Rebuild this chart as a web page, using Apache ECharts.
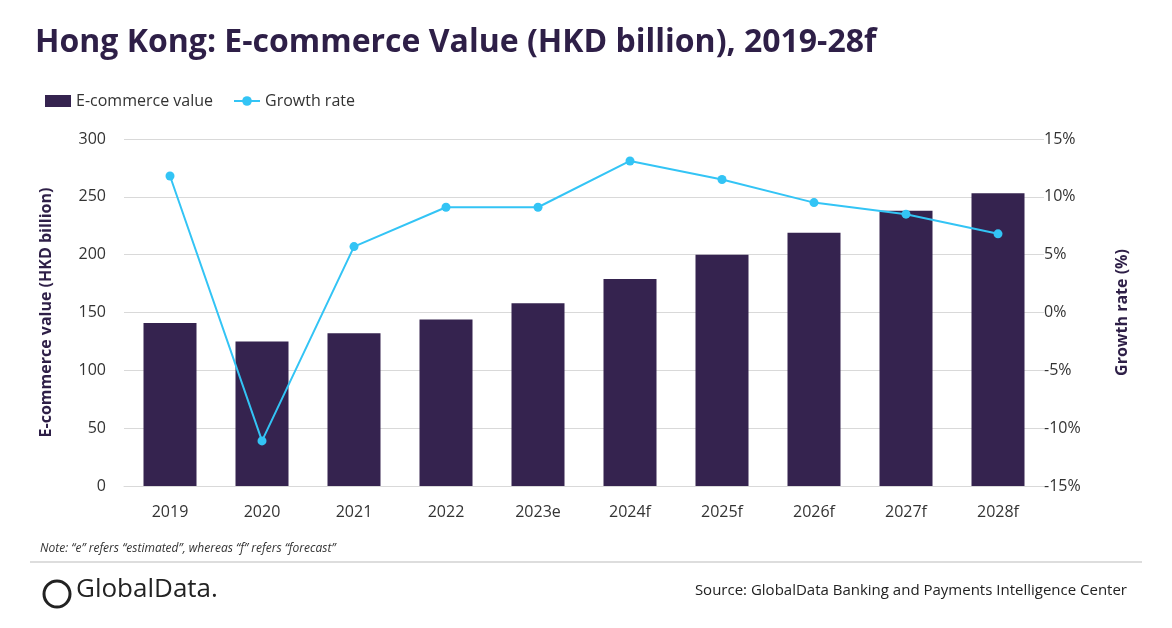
<!DOCTYPE html>
<html><head><meta charset="utf-8">
<script src="https://cdn.jsdelivr.net/npm/echarts@6/dist/echarts.min.js"></script>
<style>html,body{margin:0;padding:0;background:#fff}#c{width:1172px;height:628px}</style>
</head><body><div id="c"></div>
<script>
const categories=['2019','2020','2021','2022','2023e','2024f','2025f','2026f','2027f','2028f'];
const ecommerceValue=[141,125,132,144,158,179,200,219,238,253];
const growthRate=[11.8,-11.1,5.7,9.1,9.1,13.1,11.5,9.5,8.5,6.8];
const leftTicks=[0,300,50];
const rightTicks=[-15,15,5];
const ch=echarts.init(document.getElementById('c'));
const F='"Open Sans","Liberation Sans",sans-serif';
ch.setOption({
 textStyle:{fontFamily:F},
 title:{text:'Hong Kong: E-commerce Value (HKD billion), 2019-28f',left:30,top:22,textStyle:{fontSize:32,fontWeight:'bold',color:'#2e1f47',fontFamily:F}},
 legend:{left:40,top:88,itemGap:20,textStyle:{fontSize:16,color:'#333'},data:[{name:'E-commerce value',icon:'rect'},{name:'Growth rate'}],itemWidth:26,itemHeight:12},
 grid:{left:124,right:128,top:139,bottom:142},
 xAxis:{type:'category',data:categories,axisTick:{show:false},axisLine:{lineStyle:{color:'#d9d9d9'}},axisLabel:{fontSize:16,color:'#333',margin:18}},
 yAxis:[{type:'value',min:leftTicks[0],max:leftTicks[1],interval:leftTicks[2],name:'E-commerce value (HKD billion)',nameLocation:'middle',nameGap:70,nameTextStyle:{fontSize:16,fontWeight:'bold',color:'#2e1f47'},axisLabel:{fontSize:16,color:'#333',margin:18},splitLine:{lineStyle:{color:'#d9d9d9'}}},
 {type:'value',min:rightTicks[0],max:rightTicks[1],interval:rightTicks[2],name:'Growth rate (%)',nameLocation:'middle',nameGap:70,nameRotate:90,nameTextStyle:{fontSize:16,fontWeight:'bold',color:'#2e1f47'},axisLabel:{fontSize:16,color:'#333',margin:0,formatter:'{value}%'},splitLine:{show:false}}],
 series:[{name:'E-commerce value',type:'bar',data:ecommerceValue,barWidth:53,itemStyle:{color:'#35234f'}},
 {name:'Growth rate',type:'line',yAxisIndex:1,data:growthRate,symbol:'circle',symbolSize:9,lineStyle:{color:'#33c4f5',width:2},itemStyle:{color:'#33c4f5'}}],
 graphic:[
  {type:'text',left:40,top:543,style:{text:'Note: “e” refers “estimated”, whereas “f” refers “forecast”',fontSize:12,fontStyle:'italic',fill:'#333',fontFamily:F}},
  {type:'line',shape:{x1:30,y1:562,x2:1142,y2:562},style:{stroke:'#bbb',lineWidth:1}},
  {type:'circle',shape:{cx:57,cy:594,r:13},style:{fill:'none',stroke:'#222',lineWidth:3}},
  {type:'text',left:76,top:577,style:{text:'GlobalData.',fontSize:26,fill:'#222',fontFamily:F}},
  {type:'text',right:45,top:583,style:{text:'Source: GlobalData Banking and Payments Intelligence Center',fontSize:15,fill:'#222',fontFamily:F}}
 ]
});
</script></body></html>
